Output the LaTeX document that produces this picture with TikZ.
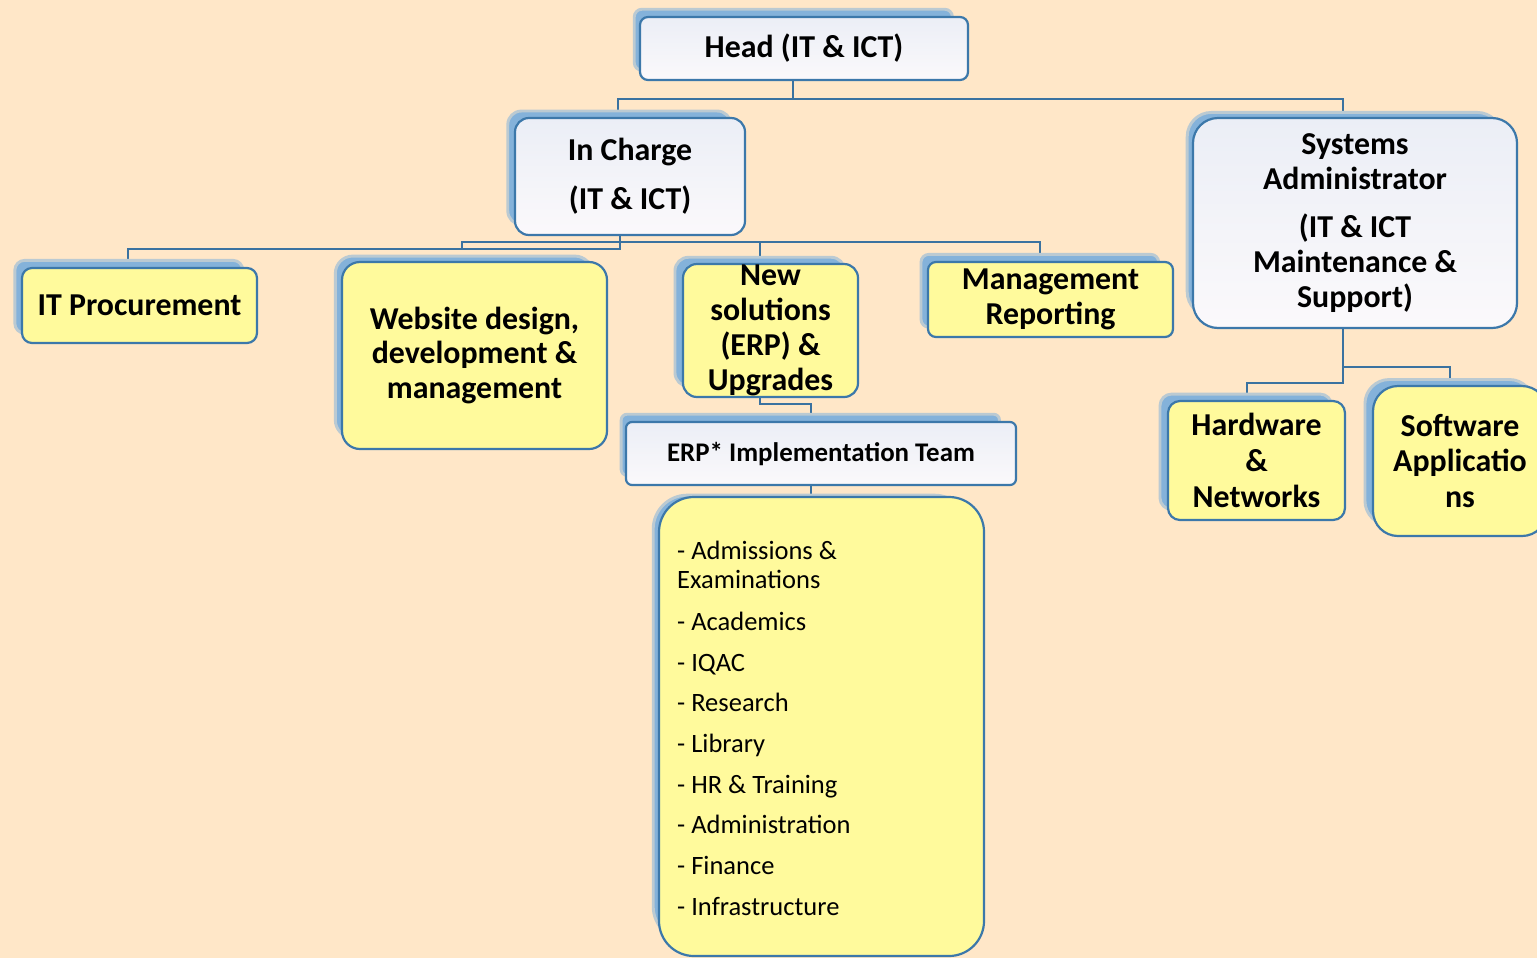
\documentclass[tikz,border=0pt]{standalone}
\usepackage{fontspec}
\setmainfont{Carlito}
\usetikzlibrary{shadows,backgrounds}

\definecolor{paper}{HTML}{FFE7C8}
\definecolor{boxyellow}{HTML}{FFFA9C}
\definecolor{boxedge}{HTML}{3C78AA}
\definecolor{wire}{HTML}{3A72A0}
\definecolor{shade}{HTML}{84B2DA}
\definecolor{greytop}{HTML}{EBEEF6}
\definecolor{greybot}{HTML}{FBF9FB}

\tikzset{
  box/.style={draw=boxedge, line width=2.2bp, inner sep=0pt, align=center, text=black,
    drop shadow={shadow xshift=-11bp, shadow yshift=9bp, shadow scale=0.97,
                 fill=shade, opacity=1, draw=shade!55!paper, line width=3bp}},
  ybox/.style={box, fill=boxyellow},
  gbox/.style={box, top color=greytop, bottom color=greybot},
  bigtext/.style={font=\fontsize{32}{35}\selectfont\bfseries},
  wirestyle/.style={draw=wire, line width=2.8bp},
  item/.style={anchor=base west, font=\fontsize{26.6}{29}\selectfont, inner sep=0pt}
}

\begin{document}
\begin{tikzpicture}[x=1bp, y=-1bp]
\useasboundingbox (0,0) rectangle (1537,958);

% top level
\node[gbox, bigtext, rounded corners=8bp, minimum width=328bp, minimum height=63bp]
  (head) at (804,48.5) {Head (IT \& ICT)};
\node[gbox, bigtext, rounded corners=14bp, minimum width=230bp, minimum height=117bp]
  (ic) at (630,176.5) {In Charge\\[14bp](IT \& ICT)};
\node[gbox, bigtext, rounded corners=25bp, minimum width=324bp, minimum height=210bp]
  (sa) at (1355,223) {Systems\\Administrator\\[13bp](IT \& ICT\\Maintenance \&\\Support)};

% under the In Charge
\node[ybox, bigtext, rounded corners=10bp, minimum width=235bp, minimum height=75bp]
  (itp) at (139.5,305.5) {IT Procurement};
\node[ybox, bigtext, rounded corners=18bp, minimum width=265bp, minimum height=187bp]
  (ws) at (474.5,355.5) {Website design,\\development \&\\management};
\node[ybox, bigtext, rounded corners=14bp, minimum width=175bp, minimum height=133bp]
  (ns) at (770.5,330.5) {New\\solutions\\(ERP) \&\\Upgrades};
\node[ybox, bigtext, rounded corners=8bp, minimum width=245bp, minimum height=75bp]
  (mr) at (1050.5,299.5) {Management\\Reporting};

% ERP team and its modules
\node[gbox, font=\fontsize{27}{30}\selectfont\bfseries, rounded corners=6bp,
      minimum width=390bp, minimum height=63bp]
  (erp) at (821,453.5) {ERP* Implementation Team};
\node[ybox, rounded corners=35bp, minimum width=325bp, minimum height=459bp]
  (mods) at (821.5,726.5) {};
\foreach \t/\y [count=\i] in {- Admissions \&/551, Examinations/580, - Academics/622,
    - IQAC/663, - Research/703, - Library/744, - HR \& Training/785,
    - Administration/825, - Finance/866, - Infrastructure/907}
  \node[item] (mod-\i) at (677,\y+8) {\t};

% under the Systems Administrator
\node[ybox, font=\fontsize{32}{36}\selectfont\bfseries, rounded corners=12bp,
      minimum width=177bp, minimum height=119bp]
  (hw) at (1256.5,460.5) {Hardware\\\&\\Networks};
\node[ybox, font=\fontsize{32}{36}\selectfont\bfseries, rounded corners=25bp,
      minimum width=174bp, minimum height=150bp]
  (sw) at (1460,461) {Software\\Applicatio\\ns};

% connectors, kept behind the boxes
\begin{scope}[on background layer]
  \fill[paper] (0,0) rectangle (1537,958);
  \coordinate (hb) at (793,99);
  \coordinate (busL) at (618,99);
  \coordinate (busR) at (1343,99);
  \draw[wirestyle] (hb |- head.south) -- (hb);
  \draw[wirestyle] (busL |- ic.north) -- (busL) -- (busR) -- (busR |- sa.north);

  \coordinate (icb) at (620,249);
  \coordinate (itpd) at (128,249);
  \coordinate (wsd) at (462,242);
  \coordinate (nsd) at (760,242);
  \coordinate (mrd) at (1040,242);
  \draw[wirestyle] (icb |- ic.south) -- (icb) -- (itpd) -- (itpd |- itp.north);
  \draw[wirestyle] (wsd |- icb) -- (wsd) -- (mrd) -- (mrd |- mr.north);
  \draw[wirestyle] (nsd) -- (nsd |- ns.north);

  \coordinate (nsb) at (760,404);
  \coordinate (erpd) at (811,404);
  \draw[wirestyle] (nsb |- ns.south) -- (nsb) -- (erpd) -- (erpd |- erp.north);
  \draw[wirestyle] (erpd |- erp.south) -- (erpd |- mods.north);

  \coordinate (sab) at (1343,383);
  \coordinate (sam) at (1343,367);
  \coordinate (swd) at (1450,367);
  \coordinate (hwd) at (1247,383);
  \draw[wirestyle] (sab |- sa.south) -- (sab) -- (hwd) -- (hwd |- hw.north);
  \draw[wirestyle] (sam) -- (swd) -- (swd |- sw.north);
\end{scope}
\end{tikzpicture}
\end{document}
